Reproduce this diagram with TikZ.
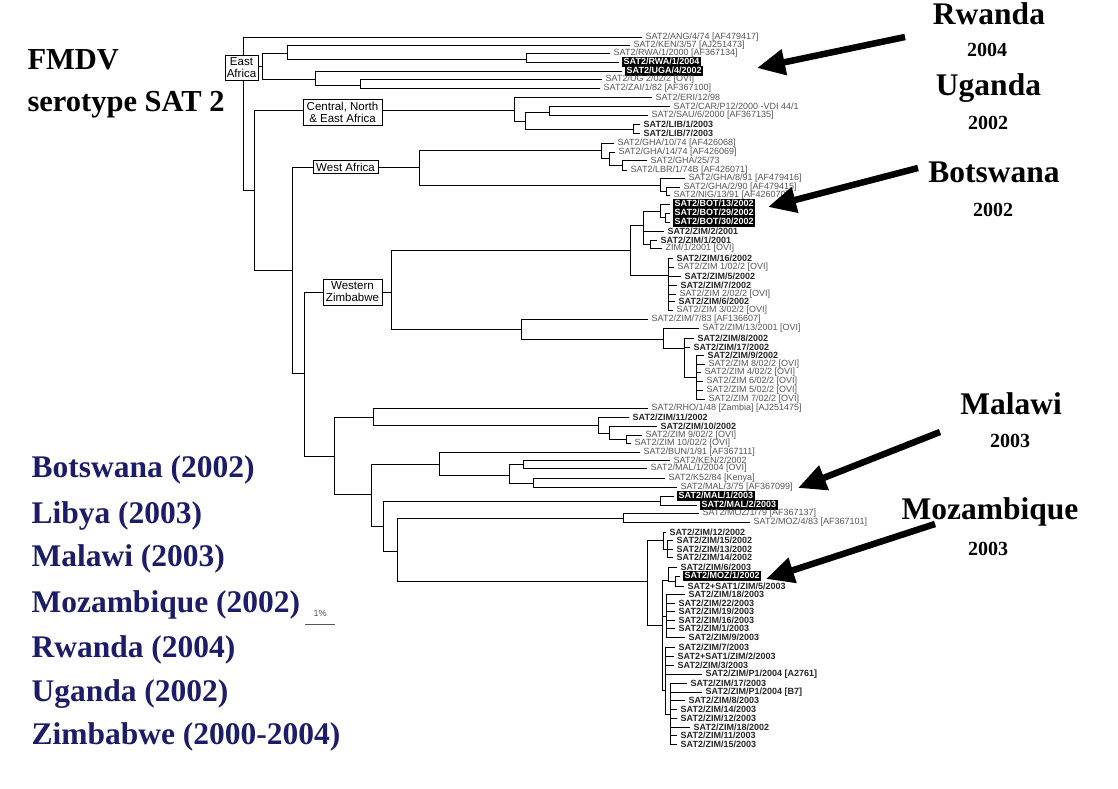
\documentclass[tikz,border=0pt]{standalone}
\usepackage{fontspec}
\setmainfont{Liberation Serif}
\newfontfamily\labf{Liberation Sans}
\usetikzlibrary{arrows.meta}
\definecolor{navy}{RGB}{28,28,105}
\definecolor{lgray}{RGB}{85,85,85}
\newcommand\leafN[6][lbl]{\node[#1] (#2) at (#5,#4) {#6};\draw[br,shorten >=3pt] (#3 |- #2.west) -- (#2.west);}
\newcommand\inN[4]{\coordinate (#1) at (#3,#4);\draw[br] (#2 |- #1) -- (#1);}
\newcommand\vertN[3]{\draw[br] (#1 |- #2) -- (#1 |- #3);}
\tikzset{
 br/.style={line width=0.8pt,line cap=rect},
 lbl/.style={anchor=west,font=\labf\fontsize{9}{9}\selectfont,text=lgray,inner sep=0.5pt},
 bl/.style={anchor=west,font=\labf\bfseries\fontsize{9}{9}\selectfont,text=black!85,inner sep=0.5pt},
 hl/.style={anchor=west,font=\labf\bfseries\fontsize{9}{9}\selectfont,text=white,fill=black,inner xsep=1.5pt,inner ysep=0.5pt,text height=6.5pt,text depth=1.6pt},
 clade/.style={draw,fill=white,line width=0.7pt,font=\labf\fontsize{11.5}{12}\selectfont,align=center,inner sep=0.3pt},
 bigarrow/.style={line width=6.5pt,-{Triangle[length=28pt,width=25pt]}},
 title/.style={anchor=west,font=\bfseries\fontsize{30.5}{32}\selectfont},
 cty/.style={font=\bfseries\fontsize{31.5}{33}\selectfont},
 yr/.style={font=\bfseries\fontsize{20}{22}\selectfont},
 lst/.style={anchor=west,font=\bfseries\fontsize{31.5}{33}\selectfont,text=navy},
}
\begin{document}
\begin{tikzpicture}[x=1pt,y=-1pt]
\useasboundingbox (0,0) rectangle (1118,789);
% ---------- tree ----------
\coordinate (R) at (243,110);
\leafN{ang}{R}{37}{645}{SAT2/ANG/4/74 [AF479417]}
\inN{E}{R}{262}{66}
\inN{E1}{E}{287}{53}
\leafN{ken}{E1}{45}{633}{SAT2/KEN/3/57 [AJ251473]}
\inN{E1a}{E1}{526}{59}
\leafN{rwa0}{E1a}{53.5}{613}{SAT2/RWA/1/2000 [AF367134]}
\leafN[hl]{rwa4}{E1a}{62}{622}{SAT2/RWA/1/2004}
\vertN{E1a}{rwa0}{rwa4}
\vertN{E1}{ken}{E1a}
\inN{E2}{E}{315}{79}
\leafN[hl]{uga}{E2}{71}{625}{SAT2/UGA/4/2002}
\inN{E2a}{E2}{360}{85}
\leafN{ug}{E2a}{79.5}{605}{SAT2/UG 2/02/2 [OVI]}
\leafN{zai}{E2a}{88}{603}{SAT2/ZAI/1/82 [AF367100]}
\vertN{E2a}{ug}{zai}
\vertN{E2}{uga}{E2a}
\vertN{E}{E1}{E2}
\inN{A}{R}{254}{190}
\vertN{R}{ang}{A}
% Central North & East Africa
\inN{C}{A}{514}{110}
\leafN{eri}{C}{97}{655}{SAT2/ERI/12/98}
\inN{C1}{C}{525}{121}
\inN{C1a}{C1}{549}{112}
\leafN{car}{C1a}{106}{673}{SAT2/CAR/P12/2000 -VDI 44/1}
\leafN{sau}{C1a}{115}{651}{SAT2/SAU/6/2000 [AF367135]}
\vertN{C1a}{car}{sau}
\inN{C1b}{C1}{633}{129}
\leafN[bl]{lib1}{C1b}{124}{643}{SAT2/LIB/1/2003}
\leafN[bl]{lib7}{C1b}{133}{643}{SAT2/LIB/7/2003}
\vertN{C1b}{lib1}{lib7}
\vertN{C1}{C1a}{C1b}
\vertN{C}{eri}{C1}
\inN{B}{A}{292}{270}
\vertN{A}{C}{B}
% West Africa
\inN{W}{B}{419}{167}
\inN{W1}{W}{601}{150}
\leafN{gha10}{W1}{143}{617}{SAT2/GHA/10/74 [AF426068]}
\inN{W1a}{W1}{609}{158}
\leafN{gha14}{W1a}{152}{618}{SAT2/GHA/14/74 [AF426069]}
\inN{W1b}{W1a}{622}{165}
\leafN{gha25}{W1b}{160.5}{650}{SAT2/GHA/25/73}
\leafN{lbr}{W1b}{170}{630}{SAT2/LBR/1/74B [AF426071]}
\vertN{W1b}{gha25}{lbr}
\vertN{W1a}{gha14}{W1b}
\vertN{W1}{gha10}{W1a}
\inN{W2}{W}{660}{185}
\leafN{gha8}{W2}{178}{688}{SAT2/GHA/8/91 [AF479416]}
\inN{W2a}{W2}{666}{191}
\leafN{gha2}{W2a}{187}{683}{SAT2/GHA/2/90 [AF479415]}
\leafN{nig}{W2a}{195.5}{673}{SAT2/NIG/13/91 [AF426070]}
\vertN{W2a}{gha2}{nig}
\vertN{W2}{gha8}{W2a}
\vertN{W}{W1}{W2}
\inN{D}{B}{304}{373}
\vertN{B}{W}{D}
% Western Zimbabwe
\inN{Z}{D}{391}{292}
\inN{Z1}{Z}{630}{250}
\inN{Z1a}{Z1}{643}{225}
\inN{Zb}{Z1a}{660}{211}
\leafN[hl]{bot13}{Zb}{204}{673}{SAT2/BOT/13/2002}
\inN{Zb2}{Zb}{665}{217}
\leafN[hl]{bot29}{Zb2}{213}{673}{SAT2/BOT/29/2002}
\leafN[hl]{bot30}{Zb2}{222}{673}{SAT2/BOT/30/2002}
\vertN{Zb2}{bot29}{bot30}
\vertN{Zb}{bot13}{Zb2}
\leafN[bl]{zt1}{Z1a}{231}{667}{SAT2/ZIM/2/2001}
\inN{Z1ab}{Z1a}{650}{244}
\leafN[bl]{zo1}{Z1ab}{240}{660}{SAT2/ZIM/1/2001}
\leafN{zo1o}{Z1ab}{248.5}{665}{ZIM/1/2001 [OVI]}
\vertN{Z1ab}{zo1}{zo1o}
\vertN{Z1a}{Zb}{Z1ab}
\inN{Z1c}{Z1}{668}{275}
\leafN[bl]{zs16}{Z1c}{258}{676}{SAT2/ZIM/16/2002}
\leafN{zs1o}{Z1c}{267}{677}{SAT2/ZIM 1/02/2 [OVI]}
\leafN[bl]{zs5}{Z1c}{276}{684}{SAT2/ZIM/5/2002}
\leafN[bl]{zs7}{Z1c}{285}{680}{SAT2/ZIM/7/2002}
\leafN{zs2o}{Z1c}{294}{679}{SAT2/ZIM 2/02/2 [OVI]}
\leafN[bl]{zs6}{Z1c}{301.5}{678}{SAT2/ZIM/6/2002}
\leafN{zs3o}{Z1c}{310}{676}{SAT2/ZIM 3/02/2 [OVI]}
\vertN{Z1c}{zs16}{zs3o}
\vertN{Z1}{Z1a}{Z1c}
\inN{Z2}{Z}{521}{329}
\leafN{z783}{Z2}{319}{651}{SAT2/ZIM/7/83 [AF136607]}
\inN{Z2a}{Z2}{663}{339}
\leafN{z13o}{Z2a}{328.5}{702}{SAT2/ZIM/13/2001 [OVI]}
\inN{Z2b}{Z2a}{684}{348}
\leafN[bl]{zz8}{Z2b}{338}{697}{SAT2/ZIM/8/2002}
\leafN[bl]{zz17}{Z2b}{347}{693}{SAT2/ZIM/17/2002}
\inN{Z2c}{Z2b}{696}{377}
\leafN[bl]{zz9}{Z2c}{355.5}{707}{SAT2/ZIM/9/2002}
\leafN{zz8o}{Z2c}{364}{708}{SAT2/ZIM 8/02/2 [OVI]}
\leafN{zz4o}{Z2c}{372.5}{704}{SAT2/ZIM 4/02/2 [OVI]}
\leafN{zz6o}{Z2c}{381}{706}{SAT2/ZIM 6/02/2 [OVI]}
\leafN{zz5o}{Z2c}{390}{706}{SAT2/ZIM 5/02/2 [OVI]}
\leafN{zz7o}{Z2c}{399}{708}{SAT2/ZIM 7/02/2 [OVI]}
\vertN{Z2c}{zz9}{zz7o}
\vertN{Z2b}{zz8}{Z2c}
\vertN{Z2a}{z13o}{Z2b}
\vertN{Z2}{z783}{Z2a}
\vertN{Z}{Z1}{Z2}
% lower part
\inN{L}{D}{334}{456}
\vertN{D}{Z}{L}
\inN{L1}{L}{373}{417}
\leafN{rho}{L1}{408}{651}{SAT2/RHO/1/48 [Zambia] [AJ251475]}
\inN{L1a}{L1}{598}{425}
\leafN[bl]{zl11}{L1a}{417}{632}{SAT2/ZIM/11/2002}
\inN{L1b}{L1a}{609}{433}
\leafN[bl]{zl10}{L1b}{426}{660}{SAT2/ZIM/10/2002}
\inN{L1c}{L1b}{626}{439}
\leafN{zl9o}{L1c}{435}{645}{SAT2/ZIM 9/02/2 [OVI]}
\leafN{zl10o}{L1c}{443}{634}{SAT2/ZIM 10/02/2 [OVI]}
\vertN{L1c}{zl9o}{zl10o}
\vertN{L1b}{zl10}{L1c}
\vertN{L1a}{zl11}{L1b}
\vertN{L1}{rho}{L1a}
\inN{L2}{L}{371}{494}
\vertN{L}{L1}{L2}
\inN{L2a}{L2}{439}{464}
\leafN{bun}{L2a}{452}{643}{SAT2/BUN/1/91 [AF367111]}
\inN{L2b}{L2a}{509}{475}
\inN{L2c}{L2b}{523}{464}
\leafN{ken2}{L2c}{460}{673}{SAT2/KEN/2/2002}
\leafN{mal04}{L2c}{468.5}{650}{SAT2/MAL/1/2004 [OVI]}
\vertN{L2c}{ken2}{mal04}
\inN{L2d}{L2b}{533}{483}
\leafN{k52}{L2d}{478}{668}{SAT2/K52/84 [Kenya]}
\leafN{mal75}{L2d}{487}{680}{SAT2/MAL/3/75 [AF367099]}
\vertN{L2d}{k52}{mal75}
\vertN{L2b}{L2c}{L2d}
\vertN{L2a}{bun}{L2b}
\inN{L3}{L2}{383}{526}
\vertN{L2}{L2a}{L3}
\inN{LM}{L3}{660}{501}
\leafN[hl]{mal1}{LM}{496}{677}{SAT2/MAL/1/2003}
\leafN[hl]{mal2}{LM}{505}{700}{SAT2/MAL/2/2003}
\vertN{LM}{mal1}{mal2}
\inN{L4}{L3}{397}{551}
\vertN{L3}{LM}{L4}
\inN{LZ}{L4}{623}{518}
\leafN{moz79}{LZ}{513.5}{702}{SAT2/MOZ/1/79 [AF367137]}
\leafN{moz83}{LZ}{522.5}{753}{SAT2/MOZ/4/83 [AF367101]}
\vertN{LZ}{moz79}{moz83}
\inN{M}{L4}{647}{581}
\vertN{L4}{LZ}{M}
\inN{M1}{M}{663}{540}
\leafN[bl]{m12}{M1}{532}{669}{SAT2/ZIM/12/2002}
\inN{M1a}{M1}{667}{549}
\leafN[bl]{m15}{M1a}{540.5}{676}{SAT2/ZIM/15/2002}
\leafN[bl]{m13}{M1a}{549}{676}{SAT2/ZIM/13/2002}
\leafN[bl]{m14}{M1a}{557.5}{676}{SAT2/ZIM/14/2002}
\vertN{M1a}{m15}{m14}
\vertN{M1}{m12}{M1a}
\inN{M2}{M}{662}{625}
\vertN{M}{M1}{M2}
\inN{M2a}{M2}{668}{580}
\leafN[bl]{n6}{M2a}{567}{680}{SAT2/ZIM/6/2003}
\inN{M2b}{M2a}{675}{581}
\leafN[hl]{moz1}{M2b}{576}{683}{SAT2/MOZ/1/2002}
\leafN[bl]{ns5}{M2b}{586}{687}{SAT2+SAT1/ZIM/5/2003}
\vertN{M2b}{moz1}{ns5}
\vertN{M2a}{n6}{M2b}
\inN{M2c}{M2}{666}{616}
\leafN[bl]{n18}{M2c}{594.5}{688}{SAT2/ZIM/18/2003}
\leafN[bl]{n22}{M2c}{603}{678}{SAT2/ZIM/22/2003}
\leafN[bl]{n19}{M2c}{611.5}{678}{SAT2/ZIM/19/2003}
\leafN[bl]{n16}{M2c}{620}{678}{SAT2/ZIM/16/2003}
\leafN[bl]{n1}{M2c}{628.5}{678}{SAT2/ZIM/1/2003}
\leafN[bl]{n9}{M2c}{637.5}{688}{SAT2/ZIM/9/2003}
\vertN{M2c}{n18}{n9}
\inN{M2d}{M2}{665}{690}
\leafN[bl]{n7}{M2d}{647}{678}{SAT2/ZIM/7/2003}
\leafN[bl]{ns2}{M2d}{656}{677}{SAT2+SAT1/ZIM/2/2003}
\leafN[bl]{n3}{M2d}{665}{677}{SAT2/ZIM/3/2003}
\leafN[bl]{p1a}{M2d}{674}{705}{SAT2/ZIM/P1/2004 [A2761]}
\inN{M2e}{M2d}{670}{714}
\leafN[bl]{n17}{M2e}{683}{690}{SAT2/ZIM/17/2003}
\leafN[bl]{p1b}{M2e}{692}{705}{SAT2/ZIM/P1/2004 [B7]}
\leafN[bl]{n8}{M2e}{700.5}{688}{SAT2/ZIM/8/2003}
\leafN[bl]{n14}{M2e}{709.5}{680}{SAT2/ZIM/14/2003}
\leafN[bl]{n12}{M2e}{718}{680}{SAT2/ZIM/12/2003}
\leafN[bl]{n182}{M2e}{727}{693}{SAT2/ZIM/18/2002}
\leafN[bl]{n11}{M2e}{735.5}{680}{SAT2/ZIM/11/2003}
\leafN[bl]{n15}{M2e}{744}{680}{SAT2/ZIM/15/2003}
\vertN{M2e}{n17}{n15}
\vertN{M2d}{n7}{M2e}
\vertN{M2}{M2a}{M2d}
% ---------- clade boxes ----------
\node[clade,minimum width=33pt,minimum height=25pt] (bEA) at (241.5,67.5) {East\\Africa};
\node[clade,minimum width=79pt,minimum height=26pt] (bCN) at (342.5,112) {Central, North\\\& East Africa};
\node[clade,minimum width=65pt,minimum height=13pt] (bWA) at (345.5,167) {West Africa};
\node[clade,minimum width=59pt,minimum height=26pt] (bWZ) at (352.5,292) {Western\\Zimbabwe};
% ---------- scale bar ----------
\node[font=\labf\fontsize{9}{10}\selectfont,text=lgray] (pct) at (320,613) {1\%};
\coordinate (sb1) at (305,624);
\coordinate (sb2) at (335,624);
\draw[line width=0.7pt,lgray] (sb1) -- (sb2);
% ---------- titles ----------
\node[title] (t1) at (24,60) {FMDV};
\node[title] (t2) at (24,105) {serotype SAT 2};
% ---------- countries (right) ----------
\node[cty] (c1) at (989,14) {Rwanda};
\node[yr] (y1) at (987,50) {2004};
\node[cty] (c2) at (988.5,88) {Uganda};
\node[yr] (y2) at (988,123) {2002};
\node[cty] (c3) at (994,172) {Botswana};
\node[yr] (y3) at (993,210) {2002};
\node[cty] (c4) at (1011,404) {Malawi};
\node[yr] (y4) at (1010,441) {2003};
\node[cty] (c5) at (990,512) {Mozambique};
\node[yr] (y5) at (988,549) {2003};
% ---------- arrows ----------
\coordinate (a1s) at (905,37);  \coordinate (a1e) at (757,68);
\coordinate (a2s) at (918,168); \coordinate (a2e) at (768,207);
\coordinate (a3s) at (940,432); \coordinate (a3e) at (798,488);
\coordinate (a4s) at (935,524); \coordinate (a4e) at (766,579);
\draw[bigarrow] (a1s) -- (a1e);
\draw[bigarrow] (a2s) -- (a2e);
\draw[bigarrow] (a3s) -- (a3e);
\draw[bigarrow] (a4s) -- (a4e);
% ---------- list ----------
\node[lst] (l1) at (28,470) {Botswana (2002)};
\node[lst] (l2) at (28,516) {Libya (2003)};
\node[lst] (l3) at (28,559) {Malawi (2003)};
\node[lst] (l4) at (28,605) {Mozambique (2002)};
\node[lst] (l5) at (28,650) {Rwanda (2004)};
\node[lst] (l6) at (28,694) {Uganda (2002)};
\node[lst] (l7) at (28,737) {Zimbabwe (2000-2004)};
\end{tikzpicture}
\end{document}
